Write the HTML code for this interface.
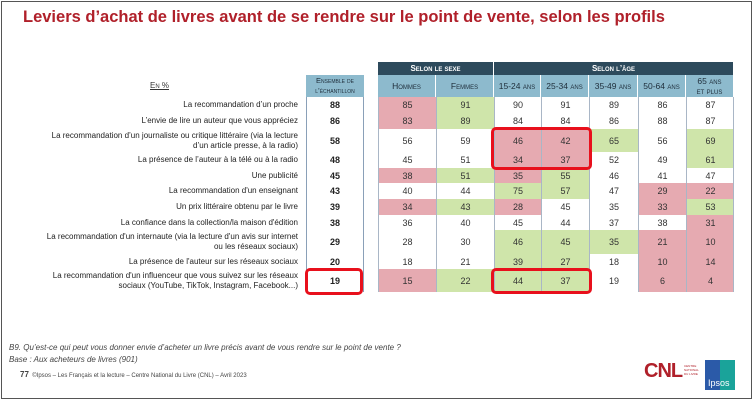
<!DOCTYPE html>
<html><head><meta charset="utf-8"><style>
body{margin:0;width:754px;height:401px;background:#fff;font-family:"Liberation Sans",sans-serif;overflow:hidden;position:relative}
#frame{position:absolute;left:1px;top:1px;width:749px;height:396px;border:1px solid #555}
.t{position:absolute;white-space:nowrap}
.cell{position:absolute;display:flex;align-items:center;justify-content:center;font-size:9px;color:#333;box-sizing:border-box}
.lbl{position:absolute;right:456px;font-size:8px;color:#222;text-align:right;line-height:10px;display:flex;align-items:center;justify-content:flex-end}
.hl{position:absolute;border:3px solid #e8101c;border-radius:5px;box-sizing:border-box}
.hd{position:absolute;display:flex;align-items:center;justify-content:center;text-align:center;font-size:7px;color:#1e2d3a;font-variant:small-caps;line-height:10px;box-sizing:border-box;border-right:1px solid #fff}
</style></head><body>
<div id="frame"></div>
<div class="t" style="left:23px;top:8px;font-size:16.5px;font-weight:bold;color:#b0202a">Leviers d’achat de livres avant de se rendre sur le point de vente, selon les profils</div>
<div class="t" style="left:150px;top:81px;font-size:8px;text-decoration:underline;color:#333;font-variant:small-caps">En %</div>
<div id="tbl"></div>
<div class="t" style="left:9px;top:343px;font-size:8px;font-style:italic;color:#444">B9. Qu’est-ce qui peut vous donner envie d’acheter un livre précis avant de vous rendre sur le point de vente ?</div>
<div class="t" style="left:9px;top:355px;font-size:8px;font-style:italic;color:#444">Base : Aux acheteurs de livres (901)</div>
<div class="t" style="left:20px;top:370px;font-size:6px;color:#444"><b style="font-size:8px">77</b>&nbsp; ©Ipsos – Les Français et la lecture – Centre National du Livre (CNL) – Avril 2023</div>
<div class="t" style="left:644px;top:360px;font-size:20px;font-weight:bold;color:#b0202a;letter-spacing:-1px;line-height:22px">CNL</div>
<div class="t" style="left:684px;top:364px;font-size:3px;line-height:4px;color:#b0202a">CENTRE<br>NATIONAL<br>DU LIVRE</div>
<div style="position:absolute;left:705px;top:360px;width:30px;height:30px;background:linear-gradient(90deg,#2b5aa8 50%,#1aa39a 50%)"><span class="t" style="left:3px;top:18px;font-size:9px;color:#fff">Ipsos</span></div>
<script>
const labels=["La recommandation d’un proche","L’envie de lire un auteur que vous appréciez","La recommandation d’un journaliste ou critique littéraire (via la lecture<br>d’un article presse, à la radio)","La présence de l’auteur à la télé ou à la radio","Une publicité","La recommandation d'un enseignant","Un prix littéraire obtenu par le livre","La confiance dans la collection/la maison d'édition","La recommandation d'un internaute (via la lecture d'un avis sur internet<br>ou les réseaux sociaux)","La présence de l'auteur sur les réseaux sociaux","La recommandation d'un influenceur que vous suivez sur les réseaux<br>sociaux (YouTube, TikTok, Instagram, Facebook...)"];
const ensemble=[88,86,58,48,45,43,39,38,29,20,19];
const columns=["Hommes","Femmes","15-24 ans","25-34 ans","35-49 ans","50-64 ans","65 ans<br>et plus"];
const values=[
[85,91,90,91,89,86,87],[83,89,84,84,86,88,87],[56,59,46,42,65,56,69],[45,51,34,37,52,49,61],
[38,51,35,55,46,41,47],[40,44,75,57,47,29,22],[34,43,28,45,35,33,53],[36,40,45,44,37,38,31],
[28,30,46,45,35,21,10],[18,21,39,27,18,10,14],[15,22,44,37,19,6,4]];
const flags=["rgwwwww","rgwwwww","wwrrgwg","wwrrwwg","rgrgwww","wwggwrr","rgrwwrg","wwwwwwr","wwgggrr","wwggwrr","rgggwrr"];
const rowB=[97,113,129,152,168,183,199,215,230,254,269,292];
const colX=[378,436,494,541,589,638,686,734];
const colors={r:"#e6aab1",g:"#cfe5aa",w:"#fff"};
const T=document.getElementById('tbl');
function mk(cls,css,html){const d=document.createElement('div');d.className=cls;d.style.cssText=css;d.innerHTML=html;T.appendChild(d);return d;}
let h=mk('hd','left:306px;top:75px;width:58px;height:22px;background:#8dbacd;border:none;font-size:7.5px','Ensemble de<br>l’échantillon');

h=mk('hd','left:378px;top:62px;width:116px;height:13px;background:#2d4a5c;color:#fff;font-weight:bold;font-size:8px','Selon le sexe');

h=mk('hd','left:494px;top:62px;width:240px;height:13px;background:#2d4a5c;color:#fff;font-weight:bold;font-size:8px','Selon l’âge');

columns.forEach((c,j)=>{const e=mk('hd',`left:${colX[j]}px;top:75px;width:${colX[j+1]-colX[j]}px;height:22px;background:#8dbacd;font-size:8.5px`,c);

});
labels.forEach((l,i)=>{const y=rowB[i],hh=rowB[i+1]-rowB[i];
const a=mk('lbl',`top:${y}px;height:${hh}px`,l);


const e=mk('cell',`left:306px;top:${y}px;width:58px;height:${hh}px;font-weight:bold;color:#222;border-left:1px solid #8aa0b8;border-right:1px solid #8aa0b8`,ensemble[i]);


values[i].forEach((v,j)=>{const c=mk('cell',`left:${colX[j]}px;top:${y}px;width:${colX[j+1]-colX[j]}px;height:${hh}px;background:${colors[flags[i][j]]};border-left:1px solid #a9b6c6`,v);

});});
mk('cell','left:733px;top:97px;width:1px;height:195px;background:#a9b6c6','');
[[494,589,129,168],[494,589,270,292],[308,360,270,293]].forEach(b=>{const e=mk('hl',`left:${b[0]-3}px;top:${b[2]-2}px;width:${b[1]-b[0]+6}px;height:${b[3]-b[2]+4}px`,'');

});
</script>
</body></html>
